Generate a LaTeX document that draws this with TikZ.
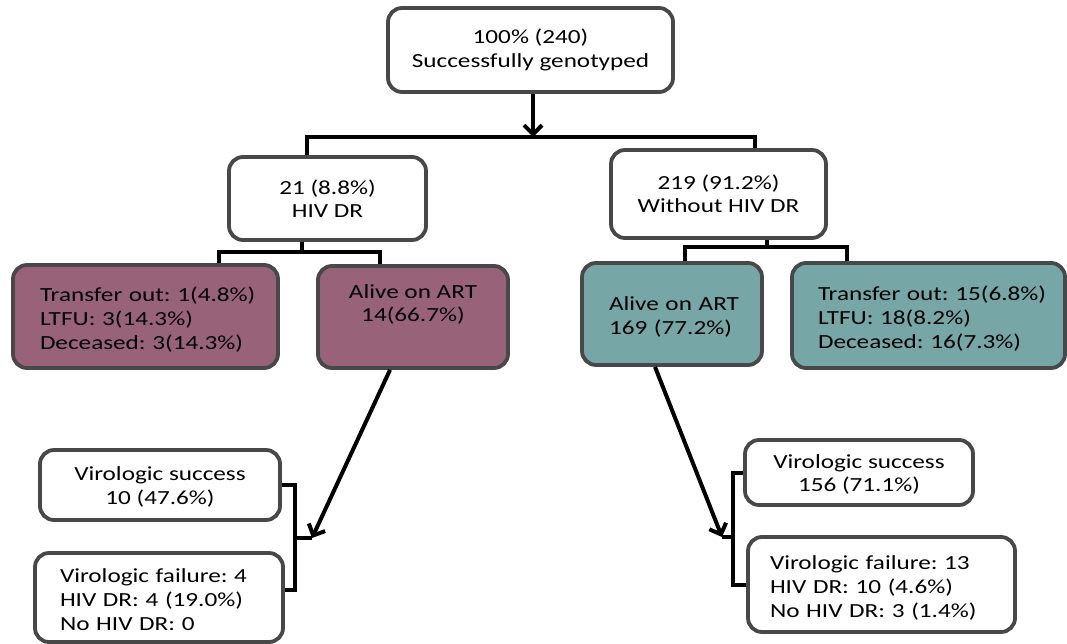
\documentclass[tikz,border=0pt]{standalone}
\usepackage{fontspec}
\setmainfont{Carlito}[FakeStretch=1.26]
\usetikzlibrary{arrows.meta}
\definecolor{edgegray}{RGB}{72,72,72}
\definecolor{plum}{RGB}{152,99,120}
\definecolor{tealbox}{RGB}{119,166,166}
\frenchspacing
% left aligned lines, set in from the left edge of the box
\newcommand{\inlines}[2]{\hspace*{#1pt}\raisebox{-4pt}[\height][\depth]{%
	\renewcommand{\arraystretch}{1.03}\begin{tabular}{@{}l@{}}#2\end{tabular}}}

\begin{document}
\begin{tikzpicture}[x=1pt,y=-1pt,
	box/.style={draw=edgegray,line width=3.8pt,rounded corners=14pt,fill=white,
		font=\fontsize{20}{23.5}\selectfont,align=center,inner sep=0pt},
	leftbox/.style={minimum width=#1,text width=#1,align=left},
	link/.style={line width=4pt,black},
	tip/.style={link,-{Straight Barb[length=9pt,width=18pt,line width=4pt]}}]
	%\draw[help lines] (0,0) grid[step=50] (1067,644);
	\useasboundingbox (0,0) rectangle (1067,644);
	% first two levels
	\node[box,minimum width=285,minimum height=84] (top) at (530.5,50) {100\% (240)\\Successfully genotyped};
	\node[box,minimum width=197,minimum height=83] (hivdr) at (327.5,198.5) {21 (8.8\%)\\HIV DR};
	\node[box,minimum width=215,minimum height=88] (nohivdr) at (718.5,194) {219 (91.2\%)\\Without HIV DR};
	% outcomes
	\node[box,fill=plum,leftbox=265,minimum height=103] (lossdr) at (145.5,316.5)
		{\inlines{27}{Transfer out: 1(4.8\%)\\LTFU: 3(14.3\%)\\Deceased: 3(14.3\%)}};
	\node[box,fill=plum,minimum width=190,minimum height=102] (artdr) at (413,317) {Alive on ART\\14(66.7\%)\\[4pt]};
	\node[box,fill=tealbox,leftbox=180,minimum height=102] (artno) at (672,314)
		{\inlines{27}{Alive on ART\\169 (77.2\%)}};
	\node[box,fill=tealbox,leftbox=273,minimum height=105] (lossno) at (928.5,315.5)
		{\inlines{26}{Transfer out: 15(6.8\%)\\LTFU: 18(8.2\%)\\Deceased: 16(7.3\%)}};
	% viral load
	\node[box,minimum width=240,minimum height=70] (sucdr) at (160,485) {\\[-6pt]Virologic success\\10 (47.6\%)};
	\node[box,leftbox=248,minimum height=89] (faildr) at (159,597.5)
		{\inlines{25}{Virologic failure: 4\\HIV DR: 4 (19.0\%)\\No HIV DR: 0}};
	\node[box,minimum width=228,minimum height=65] (sucno) at (859,472.5) {\\[-6pt]Virologic success\\156 (71.1\%)};
	\node[box,leftbox=267,minimum height=95] (failno) at (881.5,584.5)
		{\inlines{22}{Virologic failure: 13\\HIV DR: 10 (4.6\%)\\No HIV DR: 3 (1.4\%)}};
	% joints
	\coordinate (j0) at (533,137);
	\coordinate (jl) at (307,137);
	\coordinate (jr) at (755,137);
	\coordinate (kdr) at (302,252);
	\coordinate (kdrl) at (219,252);
	\coordinate (kdrr) at (380,252);
	\coordinate (kno) at (767,247);
	\coordinate (knol) at (685,247);
	\coordinate (knor) at (847,247);
	\coordinate (adr) at (390,0);
	\coordinate (ano) at (655,0);
	\coordinate (bdr) at (295,538);
	\coordinate (tipdr) at (312,538);
	\coordinate (bno) at (733,537);
	\coordinate (tipno) at (722,537);
	% connectors
	\draw[tip] (top.south -| j0) -- (j0);
	\draw[link] (jl |- hivdr.north) -- (jl) -- (jr) -- (jr |- nohivdr.north);
	\draw[link] (hivdr.south -| kdr) -- (kdr);
	\draw[link] (lossdr.north -| kdrl) -- (kdrl) -- (kdrr) -- (artdr.north -| kdrr);
	\draw[link] (nohivdr.south -| kno) -- (kno);
	\draw[link] (artno.north -| knol) -- (knol) -- (knor) -- (lossno.north -| knor);
	\draw[tip] (artdr.south -| adr) -- (tipdr);
	\draw[link] (sucdr.east) -| (bdr) |- (faildr.east |- 0,590);
	\draw[link] (bdr) -- (tipdr);
	\draw[tip] (artno.south -| ano) -- (tipno);
	\draw[link] (sucno.west) -| (bno) |- (failno.west);
	\draw[link] (bno) -- (tipno);
\end{tikzpicture}
\end{document}
